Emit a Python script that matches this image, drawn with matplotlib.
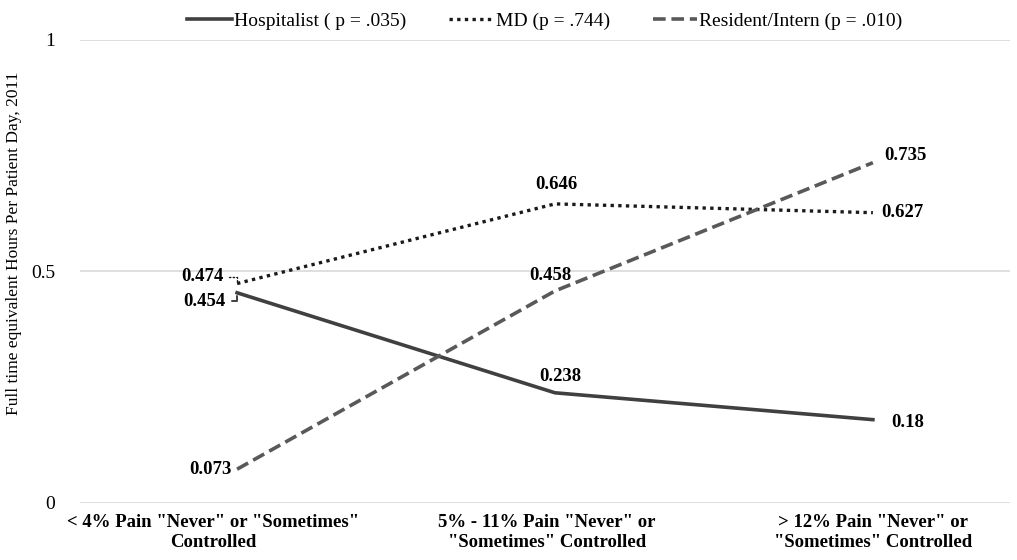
import numpy as np
import matplotlib.pyplot as plt
import matplotlib.transforms as mtransforms

plt.rcParams['font.family'] = ['Liberation Serif', 'DejaVu Serif']

categories = ['< 4% Pain "Never" or "Sometimes"\nControlled',
              '5% - 11% Pain "Never" or\n"Sometimes" Controlled',
              '> 12% Pain "Never" or\n"Sometimes" Controlled']
hospitalist = [0.454, 0.238, 0.18]
md = [0.474, 0.646, 0.627]
resident = [0.073, 0.458, 0.735]
labels = ['Hospitalist ( p = .035)', 'MD (p = .744)', 'Resident/Intern (p = .010)']

fig = plt.figure(figsize=(10.17, 5.6), dpi=100)
ax = fig.add_axes([0.0787, 0.1018, 0.9143, 0.8268])

x = np.arange(len(categories))
ax.plot(x, hospitalist, color='#404040', lw=2.6, ls='-', label=labels[0])
ax.plot(x, md, color='#1a1a1a', lw=2.4, ls=(0, (1, 1.3)), label=labels[1])
ax.plot(x, resident, color='#595959', lw=2.6, ls=(0, (3.5, 1.6)), label=labels[2])

ax.set_xlim(-0.494, 2.431)
ax.set_ylim(0, 1)
ax.set_yticks([0, 0.5, 1])
ax.set_yticklabels(['0', '0.5', '1'], fontsize=14)
ax.set_xticks(x)
ax.set_xticklabels(categories, fontsize=13.5, fontweight='bold')
ax.tick_params(axis='both', length=0, pad=8)
ax.tick_params(axis='y', pad=18)
ax.grid(axis='y', color='#d9d9d9', lw=1.2)
ax.set_axisbelow(True)
for s in ax.spines.values():
    s.set_visible(False)
ax.set_ylabel('Full time equivalent Hours Per Patient Day, 2011', fontsize=12.5)
ax.yaxis.set_label_coords(-0.062, 0.56)

# category labels sit a bit left of their points
for lbl, px in zip(ax.get_xticklabels(), (-24, -8, 0)):
    shift = mtransforms.ScaledTranslation(px / 100, 0, fig.dpi_scale_trans)
    lbl.set_transform(lbl.get_transform() + shift)

fs = 13.5
# left point labels with leader lines
ax.annotate('%.3f' % md[0], xy=(x[0], md[0]), xytext=(-10, 5), textcoords='offset points',
            ha='right', va='center', fontsize=fs, fontweight='bold',
            arrowprops=dict(arrowstyle='-', color='#1a1a1a', lw=1, ls=':',
                            connectionstyle='angle,angleA=0,angleB=90,rad=0'))
ax.annotate('%.3f' % hospitalist[0], xy=(x[0], hospitalist[0]), xytext=(-8, -6), textcoords='offset points',
            ha='right', va='center', fontsize=fs, fontweight='bold',
            arrowprops=dict(arrowstyle='-', color='#404040', lw=1.4,
                            connectionstyle='angle,angleA=0,angleB=90,rad=0'))
ax.annotate('%.3f' % resident[0], xy=(x[0], resident[0]), xytext=(-4, 0), textcoords='offset points',
            ha='right', va='center', fontsize=fs, fontweight='bold')
# middle labels above
for ser, dx, dy in ((hospitalist, 4, 12), (md, 1, 14), (resident, -3, 11)):
    ax.annotate('%.3f' % ser[1], xy=(x[1], ser[1]), xytext=(dx, dy), textcoords='offset points',
                ha='center', va='center', fontsize=fs, fontweight='bold')
# right labels
for ser, dx, dy in ((hospitalist, 13, -2), (md, 6, 0), (resident, 8, 5)):
    txt = ('%.3f' % ser[2]).rstrip('0')
    ax.annotate(txt, xy=(x[2], ser[2]), xytext=(dx, dy),
                textcoords='offset points', ha='left', va='center', fontsize=fs, fontweight='bold')

ax.legend(loc='lower center', bbox_to_anchor=(0.5, 1.0), ncol=3, frameon=False, fontsize=14,
          handlelength=2.3, handletextpad=0.1, columnspacing=2.2, borderaxespad=0.1)

fig.savefig('out.png', dpi=100)
